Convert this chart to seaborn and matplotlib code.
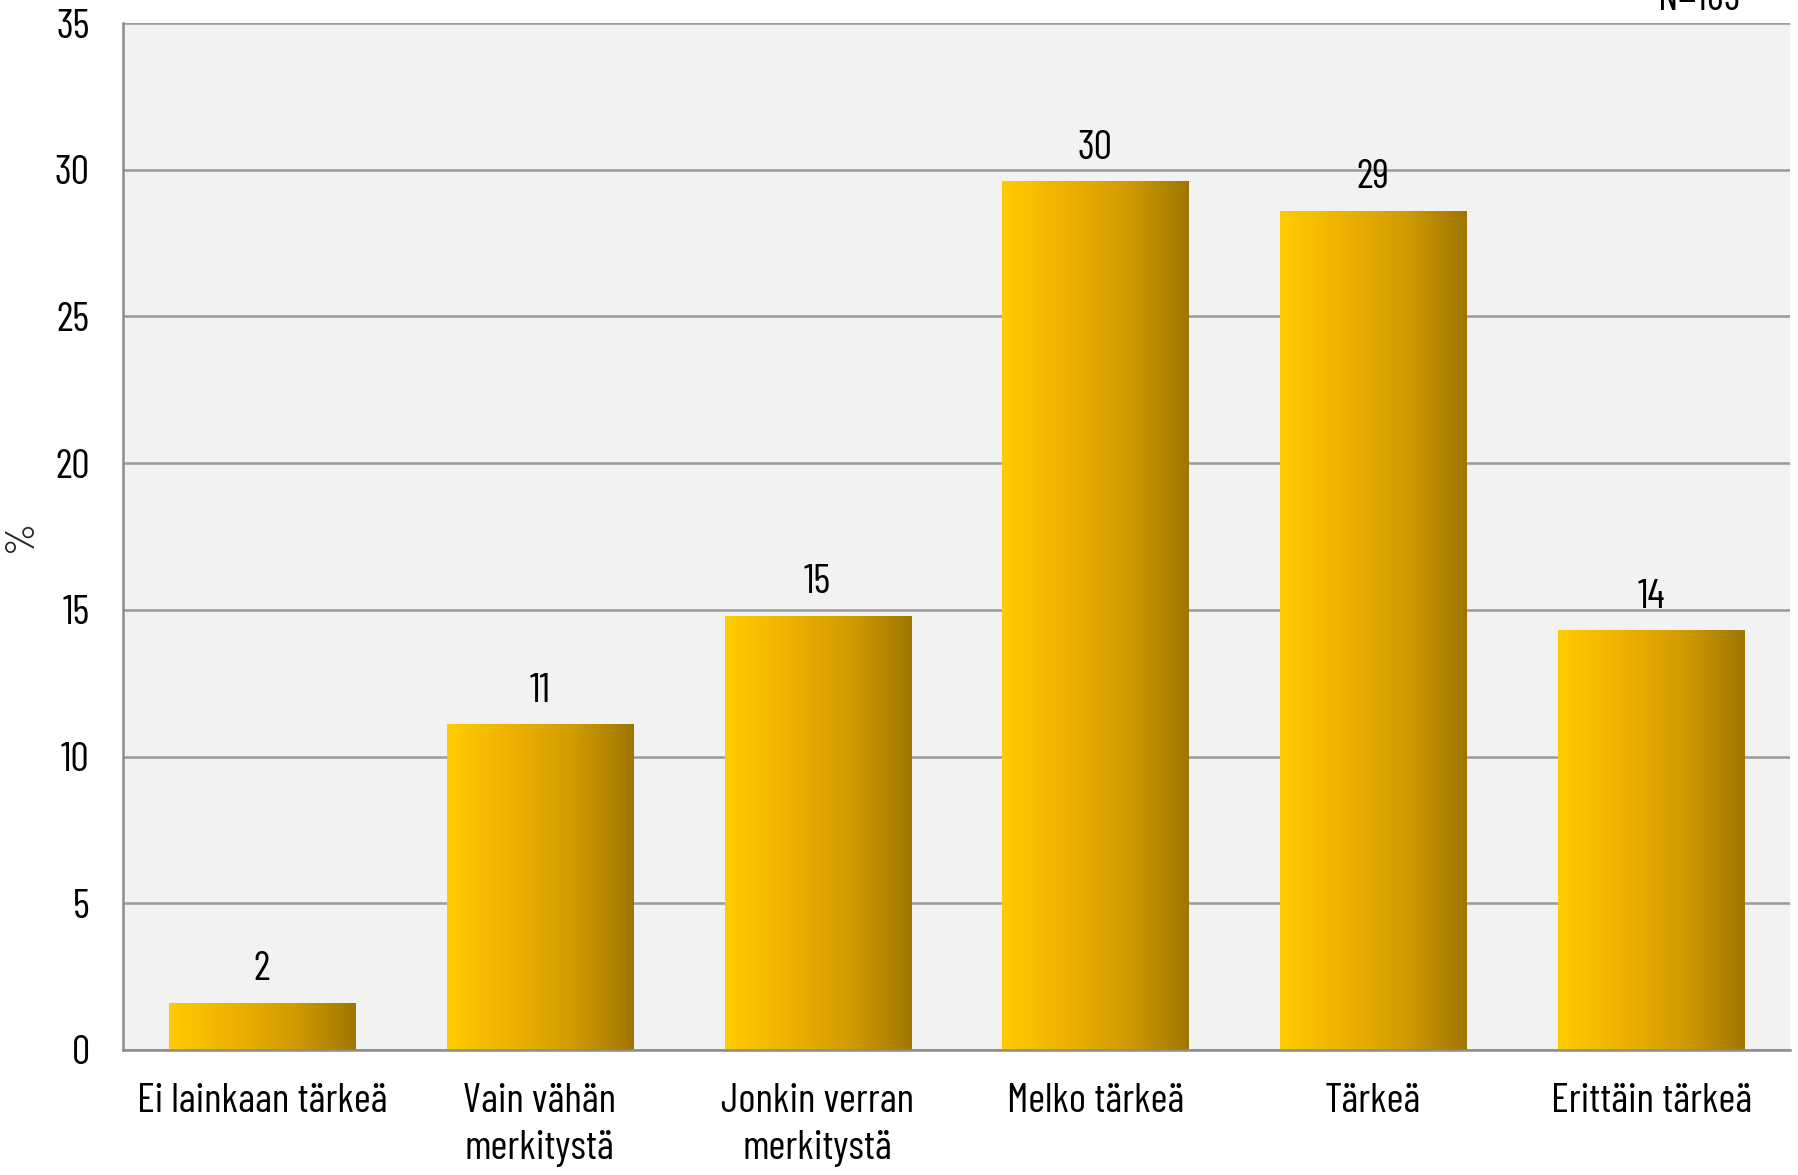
import numpy as np
import pandas as pd
import seaborn as sns
import matplotlib.pyplot as plt
from matplotlib.colors import LinearSegmentedColormap

# Data
categories = ["Ei lainkaan tärkeä", "Vain vähän\nmerkitystä", "Jonkin verran\nmerkitystä",
              "Melko tärkeä", "Tärkeä", "Erittäin tärkeä"]
values = [1.6, 11.1, 14.8, 29.6, 28.6, 14.3]
labels = ["2", "11", "15", "30", "29", "14"]
yticks = [0, 5, 10, 15, 20, 25, 30, 35]
n_text = "N=189"

df = pd.DataFrame({"cat": categories, "val": values})

sns.set_style("white")
plt.rcParams["font.family"] = ["Barlow Condensed", "DejaVu Sans"]
plt.rcParams["text.color"] = "black"
plt.rcParams["xtick.color"] = "black"
plt.rcParams["ytick.color"] = "black"

FS = 29.5

fig = plt.figure(figsize=(17.99, 11.75), dpi=100)
ax = fig.add_axes([123 / 1799, 1 - 1050 / 1175, (1790 - 123) / 1799, (1050 - 23) / 1175])
ax.set_facecolor("#F2F2F2")

sns.barplot(data=df, x="cat", y="val", ax=ax, width=0.67, color="#F0B400", zorder=3)

# gradient fill for the bars
cmap = LinearSegmentedColormap.from_list("gold", ["#FFCC00", "#EEB200", "#D29C00", "#9E7600"])
grad = np.linspace(0, 1, 256).reshape(1, -1)
for p, lab in zip(ax.patches, labels):
    x0, y0 = p.get_x(), p.get_y()
    w, h = p.get_width(), p.get_height()
    p.set_facecolor("none")
    p.set_edgecolor("none")
    im = ax.imshow(grad, cmap=cmap, extent=[x0, x0 + w, y0, y0 + h], aspect="auto", zorder=3)
    im.set_clip_path(p)
    ax.text(x0 + w / 2, y0 + h + 0.5, lab, ha="center", va="bottom", fontsize=FS, zorder=4)

ax.set_xlim(-0.5, len(categories) - 0.5)
ax.set_ylim(0, 35)
ax.set_yticks(yticks)
ax.yaxis.grid(True, color="#9A9A9A", linewidth=1.8, zorder=1)
ax.set_axisbelow(True)

for s in ["top", "right"]:
    ax.spines[s].set_visible(False)
for s in ["left", "bottom"]:
    ax.spines[s].set_color("#8C8C8C")
    ax.spines[s].set_linewidth(1.8)
    ax.spines[s].set_zorder(5)

ax.set_xticks(np.arange(-0.5, len(categories)), minor=True)
ax.tick_params(axis="x", which="major", length=0, pad=24, labelsize=FS)
ax.tick_params(axis="x", which="minor", length=12, width=1.8, color="#8C8C8C")
ax.tick_params(axis="y", length=12, width=1.8, color="#8C8C8C", labelsize=FS, pad=12)
for t in ax.get_xticklabels():
    t.set_linespacing(1.35)

ax.set_xlabel("")
ax.set_ylabel("%", fontsize=FS)
ax.yaxis.set_label_coords(-0.050, 0.5)

fig.text(1699 / 1799, 1 - 18 / 1175, n_text, ha="center", va="bottom", fontsize=FS)

fig.savefig("out.png", dpi=100)
